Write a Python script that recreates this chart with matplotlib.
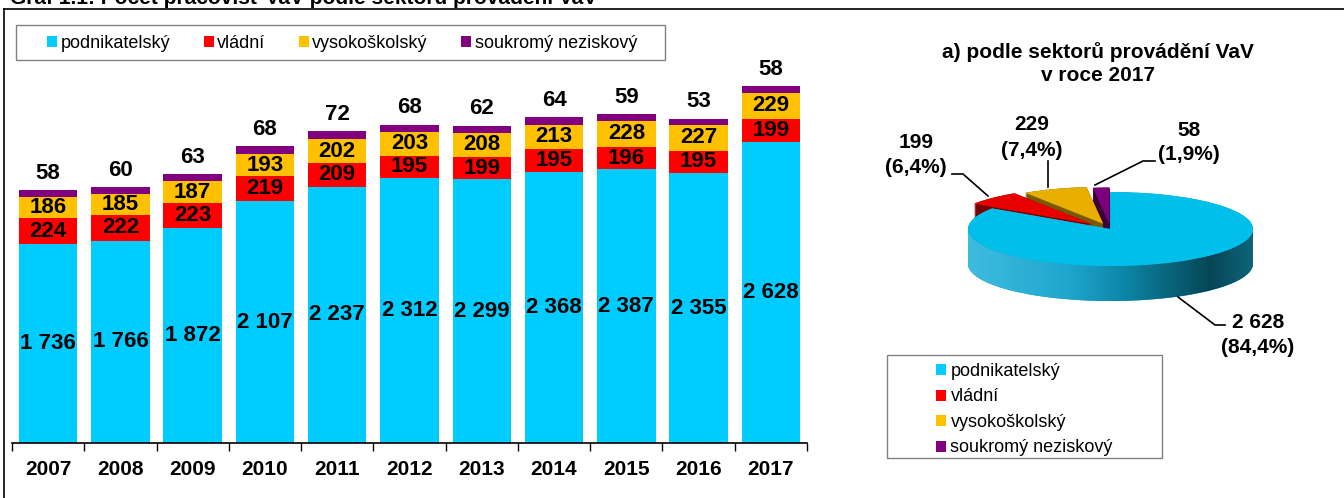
import numpy as np
import matplotlib
matplotlib.use('Agg')
import matplotlib.pyplot as plt
from matplotlib.lines import Line2D
from matplotlib.patches import Polygon, Patch, Rectangle
from matplotlib.colors import LinearSegmentedColormap

plt.rcParams['font.family'] = ['Liberation Sans', 'DejaVu Sans']

# ---------------- data ----------------
years = ['2007', '2008', '2009', '2010', '2011', '2012', '2013', '2014', '2015', '2016', '2017']
podnikatelsky = [1736, 1766, 1872, 2107, 2237, 2312, 2299, 2368, 2387, 2355, 2628]
vladni = [224, 222, 223, 219, 209, 195, 199, 195, 196, 195, 199]
vysokoskolsky = [186, 185, 187, 193, 202, 203, 208, 213, 228, 227, 229]
soukromy = [58, 60, 63, 68, 72, 68, 62, 64, 59, 53, 58]
sectors = ['podnikatelský', 'vládní', 'vysokoškolský', 'soukromý neziskový']
bar_colors = ['#00CCFF', '#FF0000', '#FFC000', '#800080']

pie_values = [2628, 199, 229, 58]
pie_top_colors = ['#00BFEB', '#E80000', '#E8AE00', '#7C007C']
pie_side_colors = ['#1AA0C8', '#7A0000', '#7A5A00', '#3A003A']

title = 'Graf 1.1: Počet pracovišť VaV podle sektorů provádění VaV'
pie_title = 'a) podle sektorů provádění VaV\nv roce 2017'

W, H = 1344, 498
fig = plt.figure(figsize=(W / 100, H / 100), dpi=100)


def fx(px):
    return px / W


def fy(py):
    return 1 - py / H


def fmt(v):
    return f'{v:,}'.replace(',', ' ')


# ---------------- frame and cropped title ----------------
fig.add_artist(Line2D([fx(4), 1], [fy(9), fy(9)], color='black', lw=1.2))
fig.add_artist(Line2D([fx(4), fx(4)], [fy(9), 0], color='black', lw=1.2))
fig.text(fx(10), fy(4), title, fontsize=15, fontweight='bold', ha='left', va='baseline')

# ---------------- stacked bars ----------------
ax = fig.add_axes([fx(12), fy(443), fx(807) - fx(12), fy(20) - fy(443)])
x = np.arange(len(years))
series = [podnikatelsky, vladni, vysokoskolsky, soukromy]
bottom = np.zeros(len(years))
totals = np.sum(series, axis=0)
for vals, col in zip(series, bar_colors):
    ax.bar(x, vals, bottom=bottom, width=0.81, color=col, edgecolor='none')
    bottom = bottom + np.array(vals)

bottom = np.zeros(len(years))
for si, vals in enumerate(series):
    for i, v in enumerate(vals):
        if si < 3:
            ax.text(x[i], bottom[i] + v / 2, fmt(v), ha='center', va='center',
                    fontsize=16, fontweight='bold')
        else:
            ax.annotate(fmt(v), (x[i], bottom[i] + v), xytext=(0, 12),
                        textcoords='offset points', ha='center', va='center',
                        fontsize=16, fontweight='bold')
    bottom = bottom + np.array(vals)

ax.set_xlim(-0.5, len(years) - 0.5)
ax.set_ylim(0, totals.max() * 423 / 357)
for s in ['left', 'right', 'top']:
    ax.spines[s].set_visible(False)
ax.spines['bottom'].set_color('black')
ax.spines['bottom'].set_linewidth(1.2)
ax.set_yticks([])
ax.set_xticks(x)
ax.set_xticklabels(years, fontsize=15, fontweight='bold')
ax.set_xticks(np.arange(-0.5, len(years), 1.0), minor=True)
ax.tick_params(axis='x', which='major', length=0, pad=12)
ax.tick_params(axis='x', which='minor', length=6, width=1, color='black', direction='out')
ax.patch.set_alpha(0)

# top legend
fig.add_artist(Rectangle((fx(16), fy(60)), fx(665) - fx(16), fy(25) - fy(60),
                         transform=fig.transFigure, fill=False, edgecolor='#808080', lw=1))
handles = [Patch(facecolor=c, edgecolor='none') for c in bar_colors]
fig.legend(handles, sectors, loc='center left', bbox_to_anchor=(fx(47), fy(43)),
           ncol=4, frameon=False, fontsize=13, handlelength=0.55, handleheight=0.55,
           handletextpad=0.2, columnspacing=1.85, borderpad=0, borderaxespad=0)

# ---------------- 3D-like pie ----------------
cx, cy = 1110.5, 229
rx, ry = 142.5, 37
left_px, right_px, top_px, bot_px = 930, 1300, 140, 320
pax = fig.add_axes([fx(left_px), fy(bot_px), fx(right_px) - fx(left_px), fy(top_px) - fy(bot_px)])
depth = 35 / ry
explode = [0, 0.18, 0.15, 0.12]

for k in np.linspace(depth, 0, 45):
    pax.pie(pie_values, colors=pie_side_colors, startangle=90, counterclock=False,
            explode=explode, center=(0, -k), wedgeprops=dict(linewidth=0))

# gradient on the front wall of the big slice
t = np.linspace(np.pi, 2 * np.pi, 200)
poly_xy = np.concatenate([np.column_stack([np.cos(t), np.sin(t)]),
                          np.column_stack([np.cos(t[::-1]), np.sin(t[::-1]) - depth])])
clip = Polygon(poly_xy, closed=True, transform=pax.transData)
grad_cmap = LinearSegmentedColormap.from_list(
    'side', [(0.0, '#3EBCE0'), (0.35, '#1FA6CE'), (0.55, '#0C86A6'),
             (0.85, '#064656'), (1.0, '#0E6478')])
grad = np.linspace(0, 1, 256).reshape(1, -1)
im = pax.imshow(grad, extent=[-1, 1, -1 - depth, 0.05], aspect='auto', cmap=grad_cmap,
                interpolation='bilinear', zorder=1.5)
im.set_clip_path(clip)

pax.pie(pie_values, colors=pie_top_colors, startangle=90, counterclock=False,
        explode=explode, center=(0, 0), wedgeprops=dict(linewidth=0, zorder=2))
pax.set_aspect('auto')
pax.set_xlim((left_px - cx) / rx, (right_px - cx) / rx)
pax.set_ylim(-(bot_px - cy) / ry, (cy - top_px) / ry)
pax.axis('off')

fig.text(fx(1098), fy(63.5), pie_title, ha='center', va='center', fontsize=15,
         fontweight='bold', linespacing=1.25)

total = sum(pie_values)
pie_label_pos = [(1258, 334.5), (916, 155), (1032, 137.5), (1189, 142.5)]
for v, (px, py) in zip(pie_values, pie_label_pos):
    pct = f'{100 * v / total:.1f}'.replace('.', ',')
    fig.text(fx(px), fy(py), f'{fmt(v)}\n({pct}%)', ha='center', va='center',
             fontsize=15, fontweight='bold', linespacing=1.4)

leaders = [
    ([1178, 1215, 1225], [297, 325, 325]),
    ([952, 963, 988], [174, 174, 196]),
    ([1048, 1048], [161, 187]),
    ([1155, 1143, 1095], [161, 161, 185]),
]
for lx, ly in leaders:
    fig.add_artist(Line2D([fx(v) for v in lx], [fy(v) for v in ly], color='black', lw=1.2))

# pie legend
fig.add_artist(Rectangle((fx(887), fy(458)), fx(1162) - fx(887), fy(355) - fy(458),
                         transform=fig.transFigure, fill=False, edgecolor='#808080', lw=1))
fig.legend(handles, sectors, loc='upper left', bbox_to_anchor=(fx(936), fy(363)),
           ncol=1, frameon=False, fontsize=13, handlelength=0.55, handleheight=0.55,
           handletextpad=0.25, labelspacing=0.47, borderpad=0, borderaxespad=0)

fig.savefig('out.png', dpi=100)
